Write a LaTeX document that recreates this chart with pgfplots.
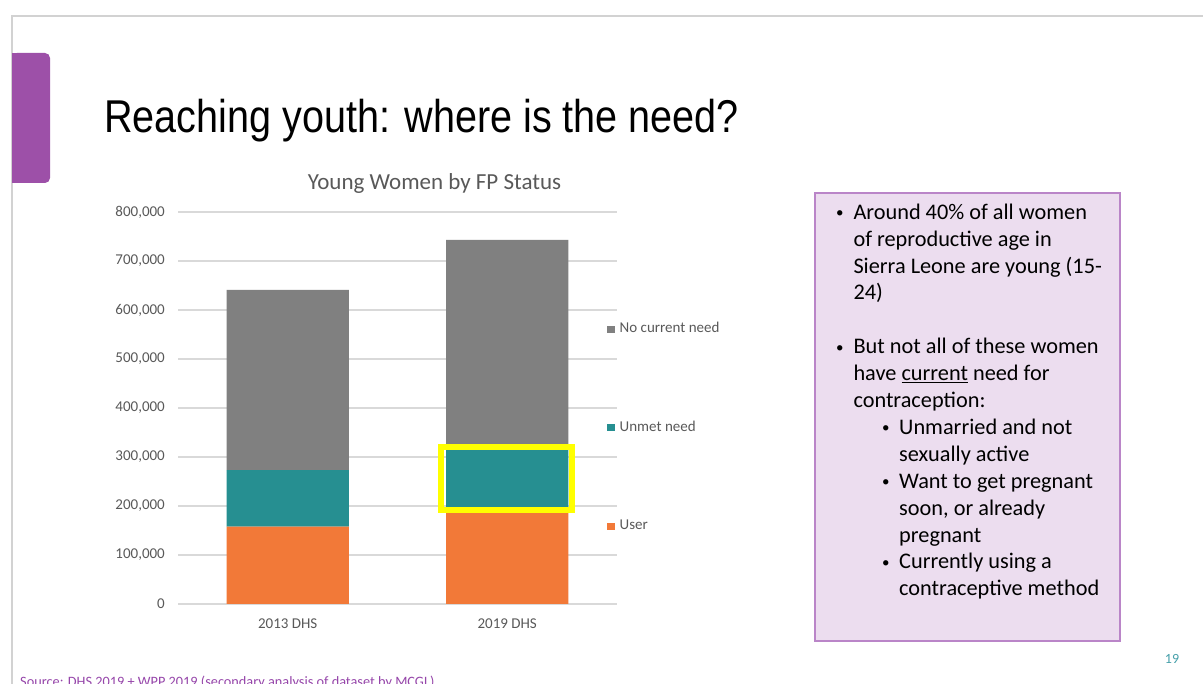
\documentclass[border=0pt]{standalone}
\usepackage{pgfplots}
\pgfplotsset{compat=1.18}
\usepackage{graphicx}
\usepackage{fontspec}
\setmainfont{Carlito}
\newfontfamily\arial{Liberation Sans}
\definecolor{barGray}{RGB}{128,128,128}
\definecolor{barTeal}{RGB}{38,143,145}
\definecolor{barOrange}{RGB}{242,121,56}
\definecolor{gridGray}{RGB}{217,217,217}
\definecolor{txtGray}{RGB}{89,89,89}
\definecolor{tabPurple}{RGB}{157,80,168}
\definecolor{boxFill}{RGB}{236,221,239}
\definecolor{boxLine}{RGB}{186,133,200}
\definecolor{srcPurple}{RGB}{150,70,170}
\definecolor{numTeal}{RGB}{70,160,170}
\definecolor{frameGray}{RGB}{210,210,210}
\definecolor{hiYellow}{RGB}{255,255,0}
\newcommand\bodyfont{\fontsize{22.3}{26}\selectfont}
\newcommand\tl[3]{\node[anchor=base west, inner sep=0pt, font=\bodyfont] at (#1pt,#2pt) {#3};}
\newcommand\bl[2]{\node[anchor=base west, inner sep=0pt] at (#1pt,#2pt) {\raisebox{1.6pt}{\fontsize{15}{18}\selectfont\textbullet}};}
\begin{document}
\begin{tikzpicture}
\path[use as bounding box, fill=white] (0pt,0pt) rectangle (1203pt,684pt);
% slide frame
\draw[frameGray, line width=1.2pt] (12pt,-5pt) -- (12pt,668pt) -- (1210pt,668pt);
% purple tab
\fill[tabPurple, rounded corners=5pt] (12pt,501pt) rectangle (50pt,631pt);
\fill[tabPurple] (12pt,501pt) rectangle (30pt,631pt);
% title
\node[anchor=base west, inner sep=0pt] at (104pt,551pt)
  {\scalebox{0.86}[1]{\arial\fontsize{46}{50}\selectfont Reaching youth: where is the need?}};
% chart title
\node[anchor=base, inner sep=0pt, text=txtGray] at (434.5pt,494pt)
  {\fontsize{23}{27}\selectfont Young Women by FP Status};
\begin{axis}[
  at={(178pt,80pt)}, anchor=south west,
  scale only axis, width=439pt, height=392pt,
  ybar stacked, bar width=0.556,
  xmin=-0.5, xmax=1.5, ymin=0, ymax=800000,
  xtick={0,1}, xticklabels={2013 DHS, 2019 DHS},
  ytick={0,100000,200000,300000,400000,500000,600000,700000,800000},
  scaled y ticks=false,
  /pgf/number format/.cd, fixed, 1000 sep={,}, assume math mode=true, /pgfplots/.cd,
  axis line style={draw=none},
  major tick length=0pt,
  ymajorgrids, grid style={color=gridGray, line width=1.1pt},
  tick label style={font=\fontsize{15}{18}\selectfont, text=txtGray},
  yticklabel style={inner sep=0pt, xshift=-13pt},
  xticklabel style={inner sep=0pt, yshift=-15pt},
  legend image code/.code={\fill[#1] (0pt,-3.6pt) rectangle (7.3pt,3.6pt); \path (9.8pt,0pt);},
  reverse legend,
  legend cell align=left,
  legend style={at={(axis description cs:0.9777,0.7207)}, anchor=north west,
    draw=none, fill=none, inner sep=0pt, row sep=83.5pt,
    font=\fontsize{15}{18}\selectfont, text=txtGray,
    nodes={inner xsep=2.5pt, inner ysep=0pt, text height=11pt, text depth=4pt}},
]
\addplot[fill=barOrange, draw=none] coordinates {(0,158000) (1,192000)};
\addplot[fill=barTeal, draw=none] coordinates {(0,115000) (1,124000)};
\addplot[fill=barGray, draw=none] coordinates {(0,368000) (1,427000)};
\legend{User, Unmet need, No current need}
\coordinate (hiA) at (axis cs:0.698,192300);
\coordinate (hiB) at (axis cs:1.295,320700);
\end{axis}
\draw[hiYellow, line width=6pt] (hiA) rectangle (hiB);
% text box
\draw[fill=boxFill, draw=boxLine, line width=1.5pt] (815pt,43pt) rectangle (1120pt,491pt);
\bl{836}{464.7}
\tl{853.3}{464.7}{Around 40\% of all women}
\tl{853.3}{437.8}{of reproductive age in}
\tl{853.3}{410.9}{Sierra Leone are young (15-}
\tl{853.3}{384.0}{24)}
\bl{836}{330.2}
\tl{853.3}{330.2}{But not all of these women}
\tl{853.3}{303.3}{have \underline{current} need for}
\tl{853.3}{276.4}{contraception:}
\bl{882}{249.5}
\tl{899}{249.5}{Unmarried and not}
\tl{899}{222.6}{sexually active}
\bl{882}{195.7}
\tl{899}{195.7}{Want to get pregnant}
\tl{899}{168.8}{soon, or already}
\tl{899}{141.9}{pregnant}
\bl{882}{115.0}
\tl{899}{115.0}{Currently using a}
\tl{899}{88.1}{contraceptive method}
% page number
\node[anchor=base, inner sep=0pt, text=numTeal] at (1172pt,20pt) {\fontsize{14}{16}\selectfont 19};
% source
\begin{scope}
\clip (0pt,0pt) rectangle (1203pt,684pt);
\node[anchor=base west, inner sep=0pt, text=srcPurple] at (20pt,-3pt)
  {\fontsize{14.3}{16}\selectfont Source: DHS 2019 + WPP 2019 (secondary analysis of dataset by MCGL)};
\end{scope}
\end{tikzpicture}
\end{document}
